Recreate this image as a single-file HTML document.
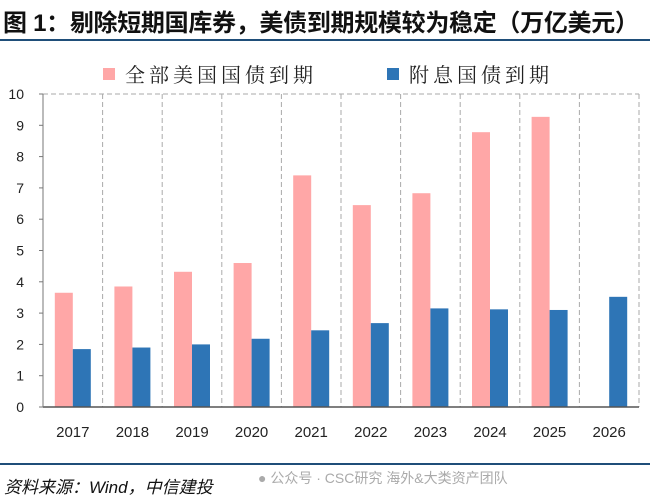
<!DOCTYPE html>
<html><head><meta charset="utf-8"><style>
body{margin:0;width:650px;height:502px;background:#fff;overflow:hidden;font-family:"Liberation Sans","Noto Sans CJK SC",sans-serif}
#title{position:absolute;left:3px;top:3px;font-size:24px;font-weight:bold;color:#111;white-space:nowrap;letter-spacing:-0.3px}
.rule{position:absolute;left:0;width:650px;height:2px;background:#1f4e79}
#src{position:absolute;left:4px;top:473px;font-size:17px;font-style:italic;color:#111}
#wm{position:absolute;left:258px;top:468px;font-size:14px;color:#aaa}
</style></head><body>
<div id="title">图 1：剔除短期国库券，美债到期规模较为稳定（万亿美元）</div>
<div class="rule" style="top:39px"></div>
<svg id="chart" width="650" height="502" style="position:absolute;left:0;top:0"></svg>
<div class="rule" style="top:463px"></div>
<div id="src">资料来源：Wind，中信建投</div>
<div id="wm">● 公众号 · CSC研究 海外&amp;大类资产团队</div>
<script>
const categories=["2017","2018","2019","2020","2021","2022","2023","2024","2025","2026"];
const totalMaturity=[3.65,3.85,4.32,4.6,7.4,6.45,6.83,8.78,9.27,0];
const couponMaturity=[1.85,1.9,2.0,2.18,2.45,2.68,3.15,3.12,3.1,3.52];
const yTicks=[0,1,2,3,4,5,6,7,8,9,10];
const NS="http://www.w3.org/2000/svg";
const svg=document.getElementById('chart');
const L=43,R=639,T=94,B=407,yMax=10;
const bw=(R-L)/categories.length;
const y=v=>B-(v/yMax)*(B-T);
const x=i=>L+i*bw;
function mk(t,a){const e=document.createElementNS(NS,t);for(const k in a)e.setAttribute(k,a[k]);svg.appendChild(e);return e;}
let g=mk('line',{x1:L,x2:R,y1:T,y2:T,stroke:'#aaa','stroke-dasharray':'5,3'});


for(let i=1;i<=categories.length;i++){
 const l=mk('line',{x1:x(i),x2:x(i),y1:T,y2:B,stroke:'#aaa','stroke-dasharray':'5,3'});
 
 
}
yTicks.forEach(v=>{
 const t=mk('text',{x:24,y:y(v)+5,'text-anchor':'end','font-size':14,fill:'#222'});
 t.textContent=v;
 
 
 const tk=mk('line',{x1:L-4,x2:L,y1:y(v),y2:y(v),stroke:'#777'});
 
 
});
categories.forEach((c,i)=>{
 const cx=x(i)+bw/2;
 const r1=mk('rect',{x:cx-18,y:y(totalMaturity[i]),width:18,height:B-y(totalMaturity[i]),fill:'#ffa7a7'});
 
 
 const r2=mk('rect',{x:cx,y:y(couponMaturity[i]),width:18,height:B-y(couponMaturity[i]),fill:'#2e75b6'});
 
 
 const t=mk('text',{x:cx,y:437,'text-anchor':'middle','font-size':15,fill:'#222'});
 t.textContent=c;
 
 
});
const ax=mk('line',{x1:L,x2:R,y1:B,y2:B,stroke:'#555','stroke-width':1.5});


const ay=mk('line',{x1:L,x2:L,y1:T,y2:B,stroke:'#777'});


const lg=[['全部美国国债到期','#ffa7a7',103],['附息国债到期','#2e75b6',387]];
lg.forEach(([n,c,lx])=>{
 const s=mk('rect',{x:lx,y:68,width:12,height:12,fill:c});
 
 
 const t=mk('text',{x:lx+22,y:82,'font-size':20,fill:'#222','font-family':'"Liberation Serif","Noto Serif CJK SC",serif','letter-spacing':'4'});
 t.textContent=n;
 
 
});
</script>
</body></html>
